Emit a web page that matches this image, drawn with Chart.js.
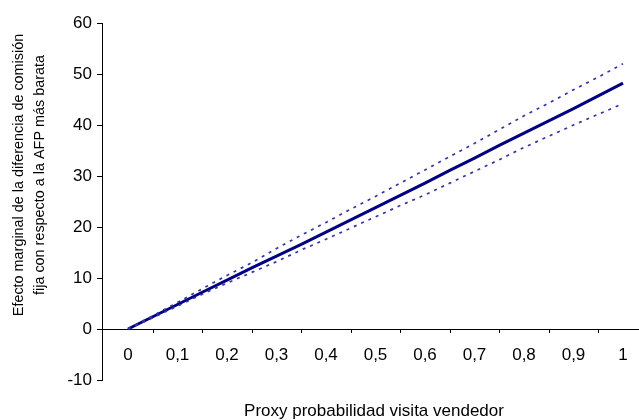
<!DOCTYPE html>
<html>
<head>
<meta charset="utf-8">
<script src="https://cdn.jsdelivr.net/npm/chart.js@4/dist/chart.umd.min.js"></script>
<style>
  html, body { margin: 0; padding: 0; background: #ffffff; overflow: hidden; }
  canvas { display: block; }
</style>
</head>
<body>
<canvas id="c" width="639" height="420"></canvas>
<script>
// ---- Data ----
const xValues = [0, 0.05, 0.1, 0.15, 0.2, 0.25, 0.3, 0.35, 0.4, 0.45, 0.5, 0.55, 0.6, 0.65, 0.7, 0.75, 0.8, 0.85, 0.9, 0.95, 1];
const mainValues  = [0, 2.4, 4.8, 7.2, 9.6, 12.0, 14.3, 16.6, 19.0, 21.4, 23.8, 26.2, 28.6, 31.1, 33.5, 36.0, 38.4, 40.8, 43.2, 45.7, 48.2];
const upperValues = [0, 2.6, 5.2, 7.9, 10.5, 13.0, 15.8, 18.4, 20.9, 23.5, 26.0, 28.6, 31.2, 33.8, 36.4, 39.1, 41.8, 44.3, 46.9, 49.4, 52.0];
const lowerValues = [0, 2.2, 4.5, 6.8, 9.0, 11.1, 13.2, 15.5, 17.6, 19.8, 22.0, 24.2, 26.3, 28.6, 30.9, 33.2, 35.6, 37.8, 40.0, 42.1, 44.2];
const xTickValues = [0, 0.1, 0.2, 0.3, 0.4, 0.5, 0.6, 0.7, 0.8, 0.9, 1];
const xTickLabels = ['0', '0,1', '0,2', '0,3', '0,4', '0,5', '0,6', '0,7', '0,8', '0,9', '1'];
const yTitleLines = ['Efecto marginal de la diferencia de comisión', 'fija con respecto a la AFP más barata'];
const xTitle = 'Proxy probabilidad visita vendedor';

const toPoints = (ys) => xValues.map((x, i) => ({ x: x, y: ys[i] }));
const FONT = '"Liberation Sans", Arial, sans-serif';

const decorPlugin = {
  id: 'decor',
  afterDraw(chart) {
    const ctx = chart.ctx;
    const xs = chart.scales.x, ys = chart.scales.y;
    const y0 = ys.getPixelForValue(0);
    ctx.save();
    // tick marks between category labels on the x axis
    ctx.strokeStyle = '#000';
    ctx.lineWidth = 1;
    for (let i = 0; i < xTickValues.length; i++) {
      const px = Math.round(xs.getPixelForValue(xTickValues[i] + 0.05)) + 0.5;
      if (px > chart.width) continue;
      ctx.beginPath();
      ctx.moveTo(px, y0);
      ctx.lineTo(px, y0 + 4);
      ctx.stroke();
    }
    // axis titles
    ctx.fillStyle = '#000';
    ctx.textAlign = 'center';
    ctx.textBaseline = 'middle';
    ctx.font = '17px ' + FONT;
    ctx.fillText(xTitle, 374, 411);
    ctx.font = '14.4px ' + FONT;
    const cx = [19, 40];
    yTitleLines.forEach((t, i) => {
      ctx.save();
      ctx.translate(cx[i], 175);
      ctx.rotate(-Math.PI / 2);
      ctx.fillText(t, 0, 0);
      ctx.restore();
    });
    ctx.restore();
  }
};

new Chart(document.getElementById('c'), {
  type: 'line',
  data: {
    datasets: [
      { label: 'upper', data: toPoints(upperValues), borderColor: '#3535a5', borderWidth: 1.7, borderDash: [3, 5], pointRadius: 0, tension: 0, fill: false },
      { label: 'lower', data: toPoints(lowerValues), borderColor: '#3535a5', borderWidth: 1.7, borderDash: [3, 5], pointRadius: 0, tension: 0, fill: false },
      { label: 'main',  data: toPoints(mainValues),  borderColor: '#000080', borderWidth: 3, pointRadius: 0, tension: 0, fill: false }
    ]
  },
  options: {
    responsive: false,
    animation: false,
    events: [],
    layout: { padding: { left: 0, right: 0, top: 23, bottom: 40 } },
    plugins: { legend: { display: false }, tooltip: { enabled: false }, title: { display: false } },
    scales: {
      x: {
        type: 'linear',
        position: { y: 0 },
        min: -0.0525,
        max: 1.0323,
        afterBuildTicks: (scale) => { scale.ticks = xTickValues.map(v => ({ value: v })); },
        afterFit: (scale) => { scale.paddingLeft = 0; scale.paddingRight = 0; },
        grid: { display: false, drawTicks: false },
        border: { display: true, color: '#000', width: 1 },
        ticks: {
          autoSkip: false,
          maxRotation: 0,
          padding: 16,
          color: '#000',
          font: { family: FONT, size: 17 },
          callback: (v) => { const i = xTickValues.findIndex(t => Math.abs(t - v) < 1e-9); return i >= 0 ? xTickLabels[i] : ''; }
        }
      },
      y: {
        type: 'linear',
        min: -10,
        max: 60,
        afterFit: (scale) => { scale.width = 102; },
        grid: { display: true, drawOnChartArea: false, drawTicks: true, tickLength: 5, color: '#000' },
        border: { display: true, color: '#000', width: 1 },
        ticks: { stepSize: 10, padding: 5, color: '#000', font: { family: FONT, size: 17 } }
      }
    }
  },
  plugins: [decorPlugin]
});
</script>
</body>
</html>
